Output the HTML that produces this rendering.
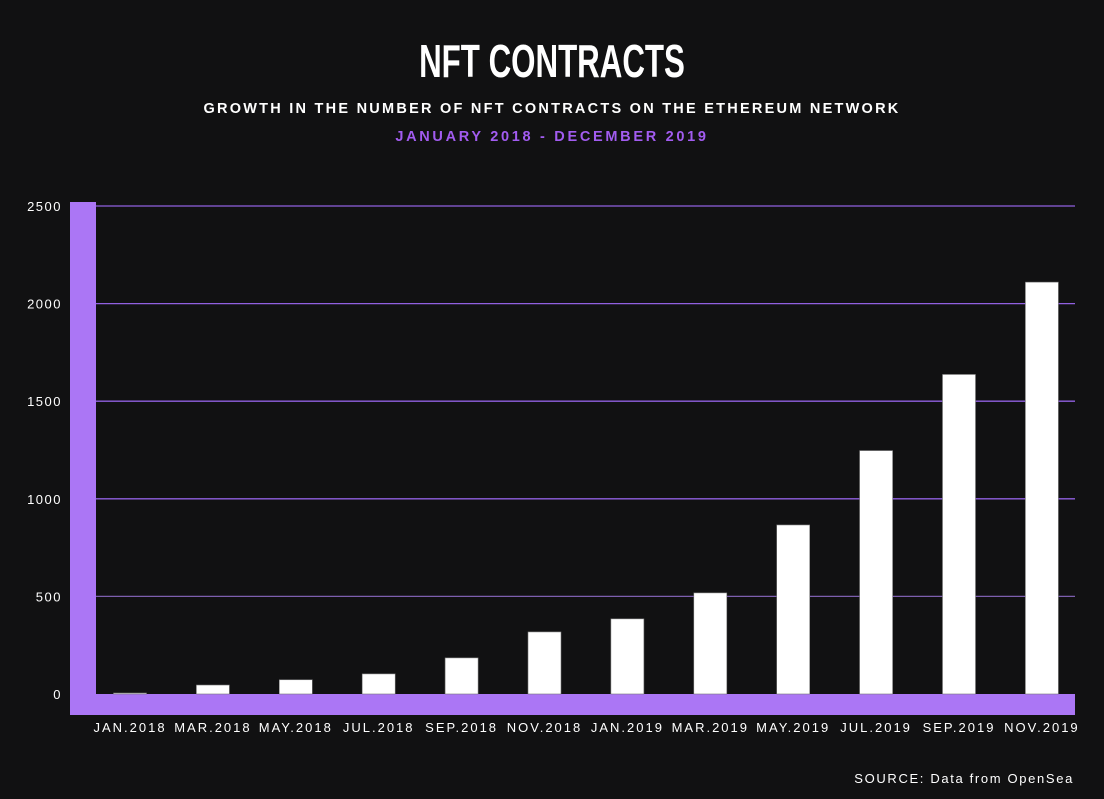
<!DOCTYPE html>
<html><head><meta charset="utf-8"><style>
body{margin:0;width:1104px;height:799px;background:#111112;overflow:hidden;font-family:"Liberation Sans",sans-serif;}
svg{display:block}
</style></head><body>
<svg id="c" width="1104" height="799">
<text x="552" y="77" text-anchor="middle" fill="#fff" font-size="46" font-weight="bold" font-family="Liberation Sans Narrow, Liberation Sans, sans-serif" transform="translate(552,0) scale(0.68,1) translate(-552,0)">NFT CONTRACTS</text>
<text x="552" y="113" text-anchor="middle" fill="#fff" font-size="14.5" font-weight="bold" letter-spacing="2.25">GROWTH IN THE NUMBER OF NFT CONTRACTS ON THE ETHEREUM NETWORK</text>
<text x="552" y="141" text-anchor="middle" fill="#a25cf0" font-size="14.5" font-weight="bold" letter-spacing="2.7">JANUARY 2018 - DECEMBER 2019</text>
<g id="grid"></g>
<rect x="70" y="202" width="26" height="513" fill="#ab76f5"/>
<rect x="70" y="694" width="1005" height="21" fill="#ab76f5"/>
<g id="bars"></g>
<g id="labels"></g>
<text x="1074" y="783" text-anchor="end" fill="#fff" font-size="13" letter-spacing="1.65">SOURCE: Data from OpenSea</text>
</svg>
<script>
const categories=["JAN.2018","MAR.2018","MAY.2018","JUL.2018","SEP.2018","NOV.2018","JAN.2019","MAR.2019","MAY.2019","JUL.2019","SEP.2019","NOV.2019"];
const values=[5,46,73,103,185,318,385,518,866,1247,1637,2110];
const yTicks=[0,500,1000,1500,2000,2500];
const NS="http://www.w3.org/2000/svg";
function y(v){return 694-v*(488/2500);}
function x(i){return 130+i*82.9;}
const grid=document.getElementById('grid'),bars=document.getElementById('bars'),labels=document.getElementById('labels');
yTicks.forEach(t=>{
  if(t>0){const l=document.createElementNS(NS,'line');
  l.setAttribute('x1',96);l.setAttribute('x2',1075);l.setAttribute('y1',y(t));l.setAttribute('y2',y(t));
  l.setAttribute('stroke',t==500?'#7d5fae':'#9160e0');l.setAttribute('stroke-width',1.3);
  
  
  grid.appendChild(l);}
  const tx=document.createElementNS(NS,'text');
  tx.setAttribute('x',62);tx.setAttribute('y',y(t)+5);tx.setAttribute('text-anchor','end');
  tx.setAttribute('fill','#fff');tx.setAttribute('font-size',13);tx.setAttribute('letter-spacing',1.5);
  tx.textContent=t;
  
  
  labels.appendChild(tx);
});
categories.forEach((c,i)=>{
  const r=document.createElementNS(NS,'rect');
  r.setAttribute('x',x(i)-16.5);r.setAttribute('width',33);
  r.setAttribute('y',y(values[i]));r.setAttribute('height',694-y(values[i]));
  r.setAttribute('fill','#fff');r.setAttribute('stroke','#777');r.setAttribute('stroke-width',0.6);
  
  
  bars.appendChild(r);
  const tx=document.createElementNS(NS,'text');
  tx.setAttribute('x',x(i));tx.setAttribute('y',732);tx.setAttribute('text-anchor','middle');
  tx.setAttribute('fill','#fff');tx.setAttribute('font-size',13);tx.setAttribute('letter-spacing',2);
  tx.textContent=c;
  
  
  labels.appendChild(tx);
});
</script>
</body></html>
